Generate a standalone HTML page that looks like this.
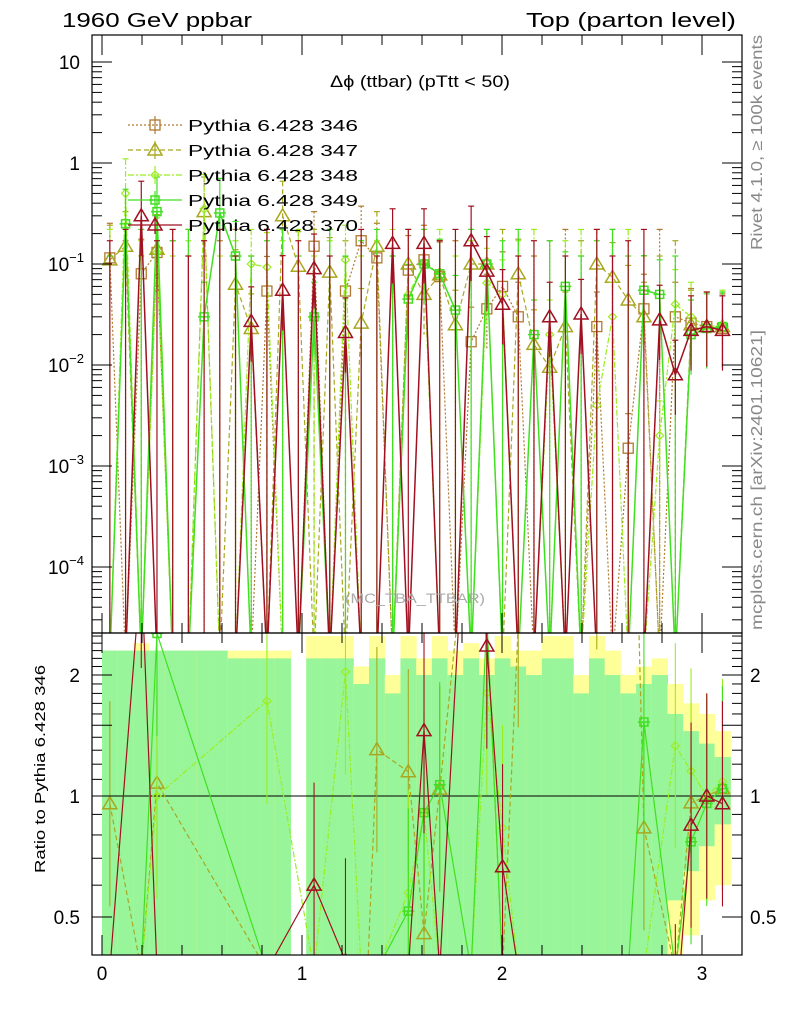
<!DOCTYPE html>
<html><head><meta charset="utf-8">
<style>
html,body{margin:0;background:#fff;width:786px;height:1024px;overflow:hidden;}
svg{display:block;font-family:"Liberation Sans",sans-serif;}
</style></head>
<body>
<svg id="c" width="786" height="1024" xmlns="http://www.w3.org/2000/svg">
<defs>
<clipPath id="cm"><rect x="92" y="35" width="650" height="598"/></clipPath>
<clipPath id="cr"><rect x="92" y="633" width="650" height="322"/></clipPath>
</defs>
<g id="bands" clip-path="url(#cr)"></g>
<g id="main" clip-path="url(#cm)"></g>
<g id="ratio" clip-path="url(#cr)"></g>
<g id="axes"></g>
<text x="62" y="27" font-size="20" textLength="190" lengthAdjust="spacingAndGlyphs">1960 GeV ppbar</text>
<text x="526" y="27" font-size="20" textLength="210" lengthAdjust="spacingAndGlyphs">Top (parton level)</text>
<text x="330" y="87" font-size="17" textLength="180" lengthAdjust="spacingAndGlyphs">Δϕ (ttbar) (pTtt &lt; 50)</text>
<text x="345" y="603" font-size="14" fill="#aaa" textLength="140" lengthAdjust="spacingAndGlyphs">(MC_TBA_TTBAR)</text>
<text transform="translate(762,250) rotate(-90)" font-size="16" fill="#888" textLength="215" lengthAdjust="spacingAndGlyphs">Rivet 4.1.0, ≥ 100k events</text>
<text transform="translate(762,630) rotate(-90)" font-size="16" fill="#888" textLength="300" lengthAdjust="spacingAndGlyphs">mcplots.cern.ch [arXiv:2401.10621]</text>
<text transform="translate(45,873) rotate(-90)" font-size="15" textLength="208" lengthAdjust="spacingAndGlyphs">Ratio to Pythia 6.428 346</text>
<g id="legend"></g>
</svg>
<script>
const NS="http://www.w3.org/2000/svg";
const nb=40, xmax=Math.PI;
const s346=[.115,0,.08,.13,0,0,0,0,0,0,.054,0,0,.15,0,.054,.17,.115,0,.087,.11,.075,0,.017,.036,.06,.03,0,0,0,0,.024,0,.0015,.036,0,.03,.026,.024,.023];
const s347=[.11,.15,0,.14,0,0,.33,0,.063,.023,0,.3,.095,0,.083,0,.026,.15,0,.1,.05,.078,.025,.1,.1,0,.08,.016,.0095,.024,0,.1,.074,.044,.03,0,0,.025,.024,.024];
const s348=[0,.5,0,.13,0,0,.35,0,0,.1,.093,0,0,0,0,.11,0,0,0,.05,.1,0,0,0,.065,.05,0,0,.02,0,0,.004,.03,0,0,.002,.04,.03,.024,.025];
const s349=[0,.25,0,.33,0,0,.03,.32,.12,0,0,0,0,.03,0,0,0,0,0,.045,.1,.08,.035,0,.1,0,0,.02,0,.06,0,0,0,0,.055,.05,0,.02,.023,.024];
const s370=[0,0,.3,0,0,0,0,0,0,.027,0,.055,0,.09,0,.021,0,0,.16,0,.16,0,0,.17,.085,.04,0,0,.03,0,.032,0,0,0,0,.028,.008,.022,.024,.022];
const bandYlo=[.4,.4,.4,.4,.4,.4,.4,.4,.4,.4,.4,.4,0,.4,.4,.4,.4,.4,.4,.4,.4,.4,.4,.4,.4,.4,.4,.4,.4,.4,.4,.4,.4,.4,.4,.4,.4,.45,.55,.6];
const bandYhi=[2.3,2.3,2.4,2.3,2.3,2.3,2.3,2.3,2.3,2.3,2.3,2.3,0,2.5,2.5,2.5,2.1,2.5,2.0,2.5,2.2,2.5,2.3,2.4,2.2,2.5,2.3,2.3,2.5,2.5,2.0,2.5,2.3,2.0,2.1,2.2,1.9,1.7,1.6,1.45];
const bandGlo=[.4,.4,.4,.4,.4,.4,.4,.4,.4,.4,.4,.4,0,.4,.4,.4,.4,.4,.4,.4,.4,.4,.4,.4,.4,.4,.4,.4,.4,.4,.4,.4,.4,.4,.4,.4,.55,.65,.75,.85];
const bandGhi=[2.3,2.3,2.3,2.3,2.3,2.3,2.3,2.3,2.2,2.2,2.2,2.2,0,2.2,2.2,2.2,1.9,2.2,1.8,2.2,2.0,2.2,2.0,2.2,2.0,2.2,2.1,2.0,2.2,2.2,1.8,2.2,2.0,1.8,1.9,2.0,1.6,1.45,1.35,1.25];
const xTicks=[0,1,2,3];
const yTicks=[10,1,0.1,0.01,0.001,0.0001];
const yTickLabels=["10","1","10|−1","10|−2","10|−3","10|−4"];
const rTicks=[2,1,0.5];
const rTickLabels=["2","1","0.5"];
const names=["Pythia 6.428 346","Pythia 6.428 347","Pythia 6.428 348","Pythia 6.428 349","Pythia 6.428 370"];
const series=[s346,s347,s348,s349,s370];
const colors=["#b07a30","#a8a820","#9aee20","#40e020","#a01020"];
const dashes=["2,2","5,3","6,2,2,2","",""];
const marks=["sq","tri","dia","cross","tri"];

const X=v=>102+v*200;
const Y=v=>264-(Math.log10(v)+1)*101;
const R=v=>796-Math.log2(v)*121;
const bw=xmax/nb;
const cx=i=>X((i+.5)*bw);
function mk(tag,attrs,parent){const e=document.createElementNS(NS,tag);for(const k in attrs)e.setAttribute(k,attrs[k]);parent.appendChild(e);return e;}
const gm=document.getElementById('main'),gr=document.getElementById('ratio'),gb=document.getElementById('bands'),ga=document.getElementById('axes'),gl=document.getElementById('legend');

for(let i=0;i<nb;i++){
  if(!bandYhi[i])continue;
  let r=mk('rect',{x:X(i*bw),y:R(bandYhi[i]),width:X((i+1)*bw)-X(i*bw)+0.5,height:R(bandYlo[i])-R(bandYhi[i]),fill:'#ffff99'},gb);
  
  
  let g=mk('rect',{x:X(i*bw),y:R(bandGhi[i]),width:X((i+1)*bw)-X(i*bw)+0.5,height:R(bandGlo[i])-R(bandGhi[i]),fill:'#99f599'},gb);
  
  
}
let l1=mk('line',{x1:92,x2:742,y1:R(1),y2:R(1),stroke:'#000','stroke-width':1},gr);



function marker(g,type,x,y,c){
  if(type==='sq')mk('rect',{x:x-5,y:y-5,width:10,height:10,fill:'none',stroke:c,'stroke-width':1.3},g);
  else if(type==='tri')mk('polygon',{points:`${x},${y-7} ${x-7},${y+5} ${x+7},${y+5}`,fill:'none',stroke:c,'stroke-width':1.5},g);
  else if(type==='dia')mk('polygon',{points:`${x},${y-4} ${x-4},${y} ${x},${y+4} ${x+4},${y}`,fill:'none',stroke:c,'stroke-width':1.2},g);
  else {mk('rect',{x:x-4,y:y-4,width:8,height:8,fill:'none',stroke:c,'stroke-width':1.5},g);mk('line',{x1:x-6,x2:x+6,y1:y,y2:y,stroke:c,'stroke-width':1.5},g);}
}
series.forEach((s,k)=>{
  const c=colors[k];
  const g=mk('g',{},gm);
  
  
  let pts=s.map((v,i)=>`${cx(i)},${v>0?Y(v):660}`).join(' ');
  mk('polyline',{points:pts,fill:'none',stroke:c,'stroke-width':k>=3?1.5:1.2,'stroke-dasharray':dashes[k]},g);
  s.forEach((v,i)=>{
    const x=cx(i);
    const top=v>0?Y(v*2.2):Y(0.12+0.05*((i+k)%3));
    const bot=v>0?Y(v/2.5):640;
    mk('line',{x1:x,x2:x,y1:top,y2:bot,stroke:c,'stroke-width':1.2,'stroke-dasharray':k<3?dashes[k]:''},g);
    mk('line',{x1:x-3,x2:x+3,y1:top,y2:top,stroke:c,'stroke-width':1.2},g);
    if(v>0)marker(g,marks[k],x,Y(v),c);
  });
  if(k>0){
    const h=mk('g',{},gr);
    
    
    let rp=[];
    s.forEach((v,i)=>{
      const b=s346[i]; if(!b)return;
      const r=v/b; rp.push(`${cx(i)},${r>0?R(r):970}`);
    });
    mk('polyline',{points:rp.join(' '),fill:'none',stroke:c,'stroke-width':1.2,'stroke-dasharray':dashes[k]},h);
    s.forEach((v,i)=>{
      const b=s346[i]; if(!b||!v)return;
      const r=v/b,x=cx(i);
      mk('line',{x1:x,x2:x,y1:R(r*1.8),y2:R(r/1.8),stroke:c,'stroke-width':1.1},h);
      marker(h,marks[k],x,R(r),c);
    });
  }
  const y=125+k*25;
  const lg=mk('g',{},gl);
  
  
  mk('line',{x1:128,x2:182,y1:y,y2:y,stroke:c,'stroke-width':1.3,'stroke-dasharray':dashes[k]},lg);
  mk('line',{x1:155,x2:155,y1:y-9,y2:y+9,stroke:c,'stroke-width':1.2},lg);
  marker(lg,marks[k],155,y,c);
  const t=mk('text',{x:188,y:y+6,'font-size':16,textLength:170,lengthAdjust:'spacingAndGlyphs'},lg);t.textContent=names[k];
});

[[35,633],[633,955]].forEach(([a,b],j)=>{
  const f=mk('rect',{x:92,y:a,width:650,height:b-a,fill:'none',stroke:'#000','stroke-width':1.2},ga);
  
  
});
yTicks.forEach((v,j)=>{
  const y=Y(v);
  mk('line',{x1:92,x2:112,y1:y,y2:y,stroke:'#000'},ga);
  mk('line',{x1:722,x2:742,y1:y,y2:y,stroke:'#000'},ga);
  for(let m=2;m<10;m++){const y2=Y(v*m/10);if(y2<633&&y2>35){mk('line',{x1:92,x2:102,y1:y2,y2:y2,stroke:'#000'},ga);mk('line',{x1:732,x2:742,y1:y2,y2:y2,stroke:'#000'},ga);}}
  const p=yTickLabels[j].split('|');
  const t=mk('text',{x:p.length>1?84:80,y:y+7,'font-size':19,'text-anchor':'end'},ga);
  
  
  t.textContent=p[0];
  if(p.length>1){const s=mk('tspan',{'font-size':13,dy:-9},t);s.textContent=p[1];}
});
rTicks.forEach((v,j)=>{
  const y=R(v);
  mk('line',{x1:92,x2:112,y1:y,y2:y,stroke:'#000'},ga);
  mk('line',{x1:722,x2:742,y1:y,y2:y,stroke:'#000'},ga);
  const t=mk('text',{x:80,y:y+7,'font-size':19,'text-anchor':'end'},ga);t.textContent=rTickLabels[j];
  
  
  const t2=mk('text',{x:750,y:y+7,'font-size':19},ga);t2.textContent=rTickLabels[j];
});
[0.6,0.7,0.8,0.9,1.1,1.2,1.3,1.4,1.5,1.6,1.7,1.8,1.9,2.1,2.2,2.3,2.4,2.5].forEach(v=>{const y=R(v);if(y>633&&y<955){const L=(Math.abs(v-1.5)<0.01)?20:10;mk('line',{x1:92,x2:92+L,y1:y,y2:y,stroke:'#000'},ga);mk('line',{x1:742-L,x2:742,y1:y,y2:y,stroke:'#000'},ga);}});
xTicks.forEach(v=>{
  const x=X(v);
  mk('line',{x1:x,x2:x,y1:955,y2:935,stroke:'#000'},ga);
  mk('line',{x1:x,x2:x,y1:633,y2:613,stroke:'#000'},ga);
  mk('line',{x1:x,x2:x,y1:35,y2:55,stroke:'#000'},ga);
  mk('line',{x1:x,x2:x,y1:633,y2:653,stroke:'#000'},ga);
  const t=mk('text',{x:x,y:980,'font-size':19,'text-anchor':'middle'},ga);t.textContent=String(v);
  
  
});
for(let k=1;k<=16;k++){const v=k*0.2;if(Math.abs(v-Math.round(v))<0.01||v>3.2)continue;const x=X(v);
  [[955,945],[633,623],[35,45],[633,643]].forEach(([a,b])=>mk('line',{x1:x,x2:x,y1:a,y2:b,stroke:'#000'},ga));}
</script>
</body></html>
